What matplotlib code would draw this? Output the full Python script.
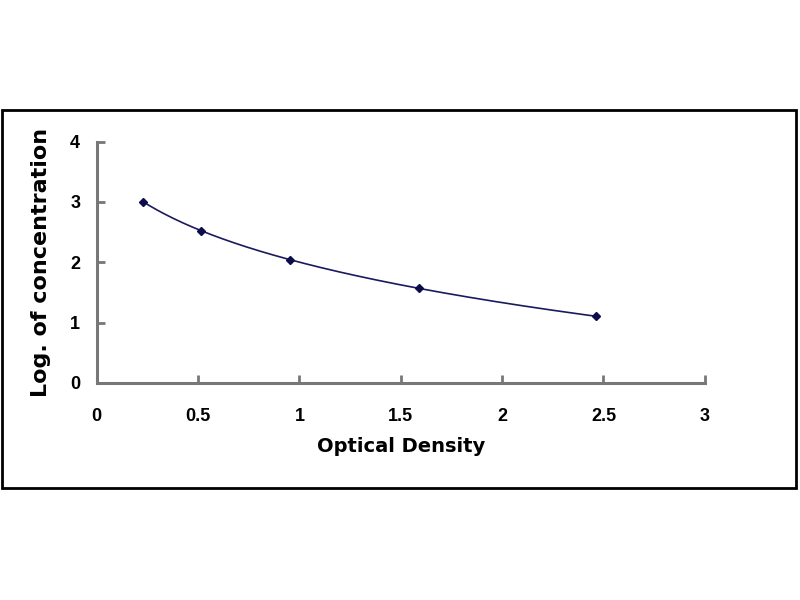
import numpy as np
import matplotlib.pyplot as plt
from matplotlib.patches import Rectangle

# Data
od = [0.23, 0.515, 0.955, 1.59, 2.465]
log_conc = [3.0, 2.52, 2.04, 1.57, 1.10]
x_ticks = [0, 0.5, 1, 1.5, 2, 2.5, 3]
x_tick_labels = ['0', '0.5', '1', '1.5', '2', '2.5', '3']
y_ticks = [0, 1, 2, 3, 4]

plt.rcParams['font.family'] = ['Liberation Sans', 'DejaVu Sans']

fig = plt.figure(figsize=(8, 6), dpi=100)
ax = fig.add_axes([0.121, 0.362, 0.76, 0.402])

# smooth fitted curve through the standards (log fit)
coef = np.polyfit(np.log(od), log_conc, 2)
xs = np.linspace(min(od), max(od), 200)
ax.plot(xs, np.polyval(coef, np.log(xs)), color='#1a1a5e', lw=1.2)
ax.plot(od, log_conc, linestyle='none', marker='D', markersize=4, color='#0d0d4d')

ax.set_xlim(0, 3)
ax.set_ylim(0, 4)
ax.set_xticks(x_ticks)
ax.set_xticklabels(x_tick_labels)
ax.set_yticks(y_ticks)
ax.tick_params(direction='in', length=6, width=2, color='#777777', labelsize=13)
ax.tick_params(axis='x', pad=18)
ax.tick_params(axis='y', pad=12)
for lab in ax.get_xticklabels() + ax.get_yticklabels():
    lab.set_fontweight('bold')
ax.spines['top'].set_visible(False)
ax.spines['right'].set_visible(False)
for s in ['left', 'bottom']:
    ax.spines[s].set_color('#777777')
    ax.spines[s].set_linewidth(2.2)

ax.set_xlabel('Optical Density', fontsize=14, fontweight='bold', labelpad=9,
              family=['DejaVu Sans'])
ax.set_ylabel('Log. of concentration', fontsize=16, fontweight='bold', labelpad=14,
              family=['DejaVu Sans'])

# outer frame
fig.patches.append(Rectangle((0.003, 0.187), 0.992, 0.63, transform=fig.transFigure,
                             fill=False, edgecolor='black', linewidth=2))

fig.savefig('out.png', dpi=100)
